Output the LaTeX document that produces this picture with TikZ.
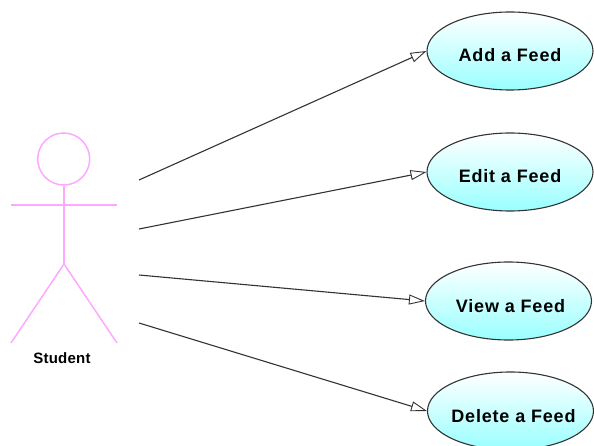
\documentclass[tikz,border=0pt]{standalone}
\usepackage{fontspec}
\setmainfont{Liberation Sans}
\newfontfamily\uclabelfont[LetterSpace=4.5,BoldFont={Liberation Sans Bold}]{Liberation Sans}
\newfontfamily\actorlabelfont[LetterSpace=1.5,BoldFont={Liberation Sans Bold}]{Liberation Sans}
\usetikzlibrary{arrows.meta,shapes.geometric}
\definecolor{actorpink}{HTML}{FFA8FF}
\definecolor{ucbottom}{HTML}{99FFFF}
\definecolor{ucline}{HTML}{333333}
\newcommand{\uctext}[2][0pt]{\smash{\raisebox{-11pt}{\hspace*{#1}\makebox[0pt][c]{#2}}}}
\tikzset{
  usecase/.style={ellipse,draw=ucline,line width=1.1pt,top color=white,bottom color=ucbottom,
    minimum width=166pt,minimum height=78pt,inner sep=0pt,font=\uclabelfont\fontsize{18}{18}\selectfont\bfseries},
  actorline/.style={draw=actorpink,line width=1.5pt},
  assoc/.style={draw=ucline,line width=1.1pt,-{Triangle[open,fill=white,length=16pt,width=10pt,line width=0.9pt]}},
  actorlabel/.style={font=\actorlabelfont\fontsize{15}{15}\selectfont\bfseries,inner sep=0pt}
}
\begin{document}
\begin{tikzpicture}[x=1pt,y=-1pt]
\useasboundingbox (0,0) rectangle (594,446);
\clip (0,0) rectangle (594,446);
\node[usecase] (add) at (510,51) {\uctext{Add a Feed}};
\node[usecase] (edit) at (510,172) {\uctext{Edit a Feed}};
\node[usecase] (view) at (508.5,301) {\uctext[4pt]{View a Feed}};
\node[usecase] (delete) at (510.5,411) {\uctext[6pt]{Delete a Feed}};
\node[circle,actorline,draw,minimum size=52pt,inner sep=0pt] (head) at (63.7,159) {};
\coordinate (hip) at (64,264);
\coordinate (arml) at (11,205);
\coordinate (armr) at (117,205);
\coordinate (footl) at (11,343);
\coordinate (footr) at (117,343);
\draw[actorline] (head.south -| hip) -- (hip);
\draw[actorline] (arml) -- (armr);
\draw[actorline] (footl) -- (hip) -- (footr);
\node[actorlabel] (student) at (62,358) {Student};
\coordinate (s1) at (139,180);
\coordinate (s2) at (139,229);
\coordinate (s3) at (139,275);
\coordinate (s4) at (139,323);
\draw[assoc] (s1) -- (add.west);
\draw[assoc] (s2) -- (edit.west);
\draw[assoc] (s3) -- (view.west);
\draw[assoc] (s4) -- (delete.west);
\end{tikzpicture}
\end{document}
